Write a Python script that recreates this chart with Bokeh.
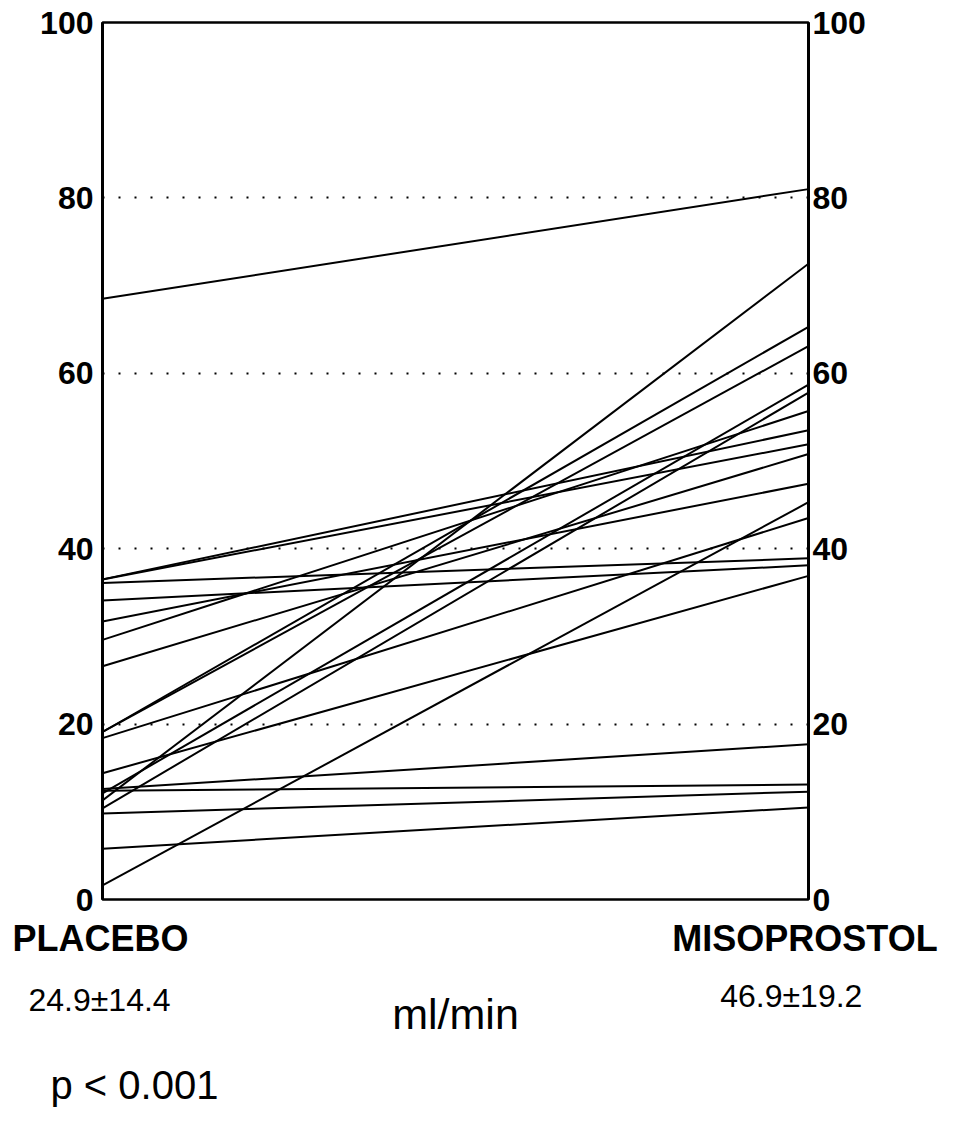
from bokeh.plotting import figure
from bokeh.models import Range1d, LinearAxis, FixedTicker, Label
from bokeh.layouts import column
from bokeh.embed import file_html
from bokeh.resources import INLINE

# Data: each patient's value on placebo and on misoprostol (ml/min)
placebo = [68.5, 36.5, 36.5, 36.1, 34.1, 31.7, 29.6, 26.6, 19.1, 19.1,
           18.4, 14.4, 12.6, 12.4, 12.1, 11.3, 10.4, 9.8, 5.8, 1.6]
misoprostol = [81.0, 53.5, 51.9, 38.9, 38.1, 47.4, 55.7, 50.8, 65.3, 63.1,
               43.5, 36.9, 17.7, 13.1, 58.7, 72.5, 57.8, 12.3, 10.5, 45.3]
conditions = [0, 1]  # PLACEBO, MISOPROSTOL
tick_values = [0, 20, 40, 60, 80, 100]
grid_values = [20, 40, 60, 80]
group_labels = ["PLACEBO", "MISOPROSTOL"]
group_stats = ["24.9\u00b114.4", "46.9\u00b119.2"]
unit_label = "ml/min"
p_label = "p < 0.001"

FONT = "Liberation Sans"
W = 938
LEFT, RIGHT, TOP, BOTTOM = 102, 808, 22, 899
H1 = BOTTOM + 19
H2 = 1110 - H1
PX_PER_UNIT = (BOTTOM - TOP) / 100.0
FRAME_W = RIGHT - LEFT

p = figure(width=W, height=H1, output_backend="svg", toolbar_location=None,
           x_range=Range1d(0, 1), y_range=Range1d(0, 100),
           min_border_left=LEFT, min_border_right=W - RIGHT,
           min_border_top=TOP, min_border_bottom=H1 - BOTTOM)
p.frame_align = False
p.background_fill_color = "white"
p.border_fill_color = "white"
p.outline_line_color = "black"
p.outline_line_width = 2.5

p.xaxis.visible = False
p.xgrid.visible = False
p.ygrid.ticker = FixedTicker(ticks=grid_values)
p.ygrid.grid_line_color = "black"
p.ygrid.grid_line_dash = "2 14"
p.ygrid.grid_line_width = 1.8

def style_axis(ax, standoff):
    ax.ticker = FixedTicker(ticks=tick_values)
    ax.axis_line_width = 3
    ax.axis_line_color = "black"
    ax.major_tick_in = 0
    ax.major_tick_out = 0
    ax.minor_tick_line_color = None
    ax.major_label_text_font = FONT
    ax.major_label_text_font_style = "bold"
    ax.major_label_text_font_size = "32px"
    ax.major_label_text_color = "black"
    ax.major_label_standoff = standoff

style_axis(p.yaxis[0], 9)
right = LinearAxis()
style_axis(right, 4)
p.add_layout(right, "right")

xs = [conditions for _ in placebo]
ys = [[a, b] for a, b in zip(placebo, misoprostol)]
p.multi_line(xs, ys, line_color="black", line_width=2)

# Lower panel for the group names and summary text (same scales, full width)
x0 = (0 - LEFT) / FRAME_W
x1 = (W - LEFT) / FRAME_W
y_top = (BOTTOM - H1) / PX_PER_UNIT
y_bot = (BOTTOM - (H1 + H2)) / PX_PER_UNIT
p2 = figure(width=W, height=H2, output_backend="svg", toolbar_location=None,
            x_range=Range1d(x0, x1), y_range=Range1d(y_bot, y_top),
            min_border_left=0, min_border_right=0,
            min_border_top=0, min_border_bottom=0)
p2.frame_align = False
p2.axis.visible = False
p2.grid.visible = False
p2.outline_line_color = None
p2.background_fill_color = "white"
p2.border_fill_color = "white"

def lab(text, x, y, size, style="normal", align="left"):
    p2.add_layout(Label(x=x, y=y, text=text, text_font=FONT, text_font_size=size,
                        text_font_style=style, text_align=align,
                        text_baseline="middle", text_color="black"))

lab(group_labels[0], -0.1275, -4.45, "36px", "bold", "left")
lab(group_labels[1], 1.183, -4.45, "36px", "bold", "right")
lab(group_stats[0], -0.1048, -11.5, "32px")
lab(unit_label, 0.5, -13.1, "43px", align="center")
lab(group_stats[1], 0.875, -11.06, "32px")
lab(p_label, -0.0737, -21.1, "40px")

layout = column(p, p2, spacing=0)
open("out.html", "w").write(file_html(layout, INLINE))
